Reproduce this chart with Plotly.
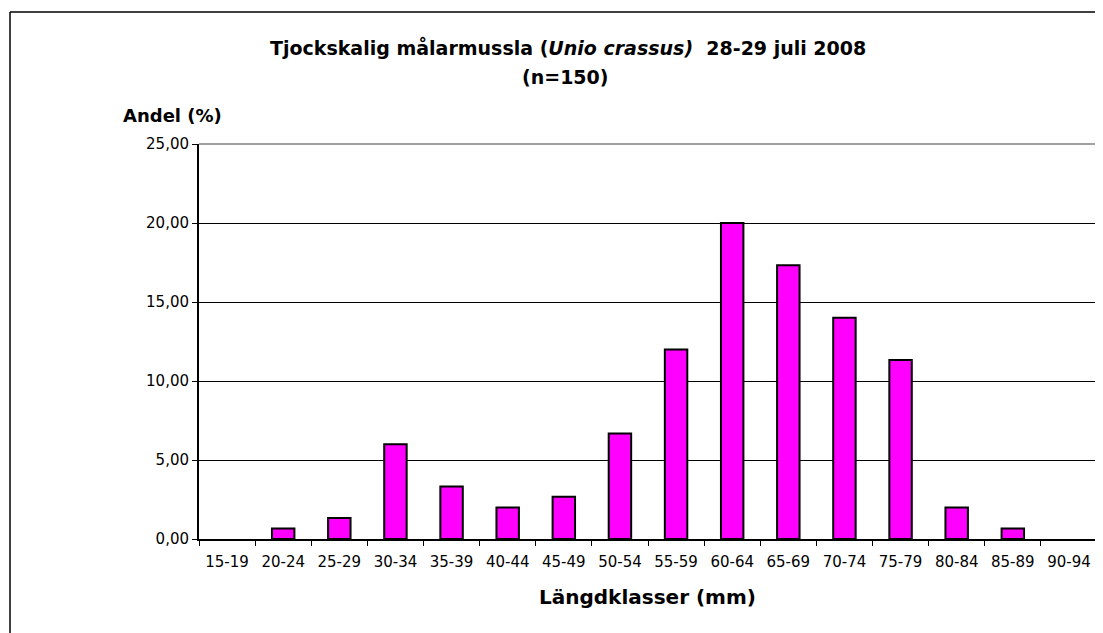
import plotly.graph_objects as go

categories = ["15-19", "20-24", "25-29", "30-34", "35-39", "40-44", "45-49", "50-54",
              "55-59", "60-64", "65-69", "70-74", "75-79", "80-84", "85-89", "90-94"]
andel = [0.00, 0.67, 1.33, 6.00, 3.33, 2.00, 2.67, 6.67,
         12.00, 20.00, 17.33, 14.00, 11.33, 2.00, 0.67, 0.00]
y_tickvals = [0, 5, 10, 15, 20, 25]
y_ticktext = ["0,00", "5,00", "10,00", "15,00", "20,00", "25,00"]

FONT = "DejaVu Sans, Liberation Sans, Arial, sans-serif"
OFF = 8  # default page body margin
W, H = 1103 - OFF, 633 - OFF
# screen coordinates of plot area
SX0, SX1, SY0, SY1 = 199, 1097, 144, 539
L, R, T, B = SX0 - OFF, W - (SX1 - OFF), SY0 - OFF, H - (SY1 - OFF)
pw, ph = W - L - R, H - T - B

def px_x(x):
    return (x - OFF - L) / pw

def px_y(y):
    return (SY1 - y) / ph

line_widths = [0 if v == 0 else 2 for v in andel]

fig = go.Figure()
fig.add_trace(go.Bar(
    x=categories, y=andel,
    marker=dict(color="#FF00FF", line=dict(color="black", width=line_widths)),
    hoverinfo="x+y",
))

fig.update_layout(
    width=W, height=H,
    margin=dict(l=L, r=R, t=T, b=B),
    paper_bgcolor="white", plot_bgcolor="white",
    bargap=0.6,
    showlegend=False,
    font=dict(family=FONT, color="black", size=15),
    xaxis=dict(
        type="category",
        tickson="boundaries",
        ticks="outside", ticklen=5, tickcolor="black", tickwidth=1,
        ticklabelstandoff=8,
        showline=True, linecolor="black", linewidth=2,
        showgrid=False, zeroline=False,
        tickfont=dict(size=15, family=FONT, color="black"),
    ),
    yaxis=dict(
        range=[0, 25],
        tickvals=y_tickvals, ticktext=y_ticktext,
        ticks="outside", ticklen=5, tickcolor="black", tickwidth=1,
        showline=True, linecolor="black", linewidth=2,
        showgrid=True, gridcolor="black", gridwidth=1,
        zeroline=False,
        tickfont=dict(size=15, family=FONT, color="black"),
    ),
    shapes=[
        # top and right plot border (gray)
        dict(type="line", xref="paper", yref="paper", x0=0, x1=1, y0=1, y1=1,
             line=dict(color="#A0A0A0", width=2)),
        dict(type="line", xref="paper", yref="paper", x0=1, x1=1, y0=0, y1=1,
             line=dict(color="#A0A0A0", width=2)),
        # outer chart frame (left and top visible)
        dict(type="line", xref="paper", yref="paper", x0=px_x(10), x1=px_x(10),
             y0=px_y(12), y1=px_y(700), line=dict(color="black", width=1.5)),
        dict(type="line", xref="paper", yref="paper", x0=px_x(10), x1=px_x(1200),
             y0=px_y(12), y1=px_y(12), line=dict(color="black", width=1.5)),
    ],
    annotations=[
        dict(text="<b>Tjockskalig målarmussla (<i>Unio crassus)</i>  28-29 juli 2008</b>",
             xref="paper", yref="paper", x=px_x(568), y=px_y(47),
             xanchor="center", yanchor="middle", showarrow=False,
             font=dict(size=19, family=FONT, color="black")),
        dict(text="<b>(n=150)</b>",
             xref="paper", yref="paper", x=px_x(565), y=px_y(77),
             xanchor="center", yanchor="middle", showarrow=False,
             font=dict(size=19, family=FONT, color="black")),
        dict(text="<b>Andel (%)</b>",
             xref="paper", yref="paper", x=px_x(121), y=px_y(115),
             xanchor="left", yanchor="middle", showarrow=False,
             font=dict(size=18, family=FONT, color="black")),
        dict(text="<b>Längdklasser (mm)</b>",
             xref="paper", yref="paper", x=px_x(647), y=px_y(597),
             xanchor="center", yanchor="middle", showarrow=False,
             font=dict(size=20, family=FONT, color="black")),
    ],
)

fig.write_html("out.html")
